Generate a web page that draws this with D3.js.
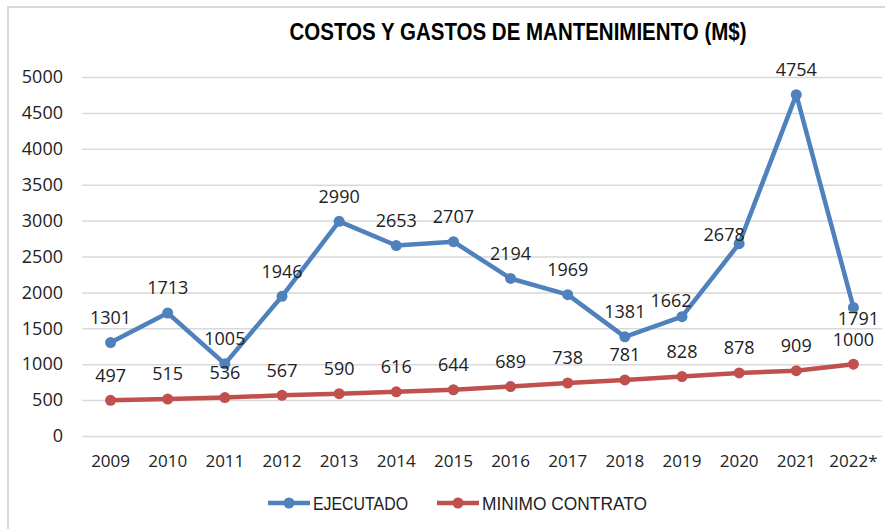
<!DOCTYPE html>
<html>
<head>
<meta charset="utf-8">
<script src="https://cdn.jsdelivr.net/npm/d3@7"></script>
<style>
  html, body { margin: 0; padding: 0; background: #fff; }
</style>
</head>
<body>
<div id="chart"></div>
<script>
// Chart data
const years = ["2009", "2010", "2011", "2012", "2013", "2014", "2015",
  "2016", "2017", "2018", "2019", "2020", "2021", "2022*"];
const ejecutado = [1301, 1713, 1005, 1946, 2990, 2653, 2707, 2194, 1969, 1381, 1662, 2678, 4754, 1791];
const minimoContrato = [497, 515, 536, 567, 590, 616, 644, 689, 738, 781, 828, 878, 909, 1000];
const yTicks = [0, 500, 1000, 1500, 2000, 2500, 3000, 3500, 4000, 4500, 5000];
const seriesNames = ["EJECUTADO", "MINIMO CONTRATO"];
const seriesColors = ["#4f81bd", "#c0504d"];

const width = 885, height = 529;
const numFont = "'Open Sans', 'Liberation Sans', sans-serif";
const textFont = "'Liberation Sans', Arial, sans-serif";

const svg = d3.select("#chart")
  .append("svg")
  .attr("width", width)
  .attr("height", height);

// chart border (only top/left visible in the picture)
svg.append("rect")
  .attr("x", 8).attr("y", 7)
  .attr("width", 900).attr("height", 600)
  .attr("fill", "none")
  .attr("stroke", "#d9d9d9")
  .attr("stroke-width", 2);

// Scales
const x = d3.scaleBand().domain(years).range([82, 882]);
const cx = (d) => x(d) + x.bandwidth() / 2;
const y = d3.scaleLinear().domain([0, 5000]).range([436, 77]);

// Title (condensed like the original narrow font)
svg.append("text")
  .attr("x", 518)
  .attr("y", 40)
  .attr("text-anchor", "middle")
  .attr("font-family", textFont)
  .attr("font-weight", "bold")
  .attr("font-size", 23)
  .attr("textLength", 457)
  .attr("lengthAdjust", "spacingAndGlyphs")
  .attr("fill", "#000")
  .text("COSTOS Y GASTOS DE MANTENIMIENTO (M$)");

// Gridlines + y labels
const yAxis = d3.axisLeft(y)
  .tickValues(yTicks)
  .tickSize(-800)
  .tickPadding(19)
  .tickFormat(d3.format("d"));

const gy = svg.append("g")
  .attr("transform", "translate(82,0)")
  .call(yAxis);
gy.select(".domain").remove();
gy.selectAll(".tick line")
  .attr("stroke", "#d9d9d9")
  .attr("stroke-width", 1.5);
gy.selectAll(".tick text")
  .attr("font-family", numFont)
  .attr("font-size", 18)
  .attr("fill", "#222");

// x labels
const xAxis = d3.axisBottom(x).tickSize(0).tickPadding(0);
const gx = svg.append("g")
  .attr("transform", "translate(0,455)")
  .call(xAxis);
gx.select(".domain").remove();
gx.selectAll(".tick text")
  .attr("dy", "0.7em")
  .attr("font-family", numFont)
  .attr("font-size", 17)
  .attr("fill", "#222");

// Lines and markers
const series = [ejecutado, minimoContrato];
const line = d3.line()
  .x((d, i) => cx(years[i]))
  .y((d) => y(d));

series.forEach((vals, s) => {
  svg.append("path")
    .datum(vals)
    .attr("d", line)
    .attr("fill", "none")
    .attr("stroke", seriesColors[s])
    .attr("stroke-width", 4.5)
    .attr("stroke-linejoin", "round");

  svg.append("g")
    .selectAll("circle")
    .data(vals)
    .enter()
    .append("circle")
    .attr("cx", (d, i) => cx(years[i]))
    .attr("cy", (d) => y(d))
    .attr("r", 5.5)
    .attr("fill", seriesColors[s]);
});

// Data labels: default sits above the point, a few are nudged like in the picture
const labelNudge = {
  "0-10": [-11, 9],
  "0-11": [-15, 16],
  "0-13": [5, 36]
};
series.forEach((vals, s) => {
  svg.append("g")
    .selectAll("text")
    .data(vals)
    .enter()
    .append("text")
    .attr("x", (d, i) => cx(years[i]) + ((labelNudge[s + "-" + i] || [0, 0])[0]))
    .attr("y", (d, i) => y(d) - 25 + ((labelNudge[s + "-" + i] || [0, 0])[1]))
    .attr("dy", "0.35em")
    .attr("text-anchor", "middle")
    .attr("font-family", numFont)
    .attr("font-size", 18)
    .attr("fill", "#222")
    .text((d) => d);
});

// Legend
const legendX = [268, 437];
const legendW = [95, 165];
const legend = svg.append("g");
seriesNames.forEach((name, s) => {
  const g = legend.append("g").attr("transform", `translate(${legendX[s]},503)`);
  g.append("line")
    .attr("x1", 0).attr("x2", 42)
    .attr("stroke", seriesColors[s])
    .attr("stroke-width", 4.5);
  g.append("circle")
    .attr("cx", 21).attr("r", 5.5)
    .attr("fill", seriesColors[s]);
  g.append("text")
    .attr("x", 45)
    .attr("dy", "0.36em")
    .attr("font-family", textFont)
    .attr("font-size", 19)
    .attr("textLength", legendW[s])
    .attr("lengthAdjust", "spacingAndGlyphs")
    .attr("fill", "#222")
    .text(name);
});
</script>
</body>
</html>
